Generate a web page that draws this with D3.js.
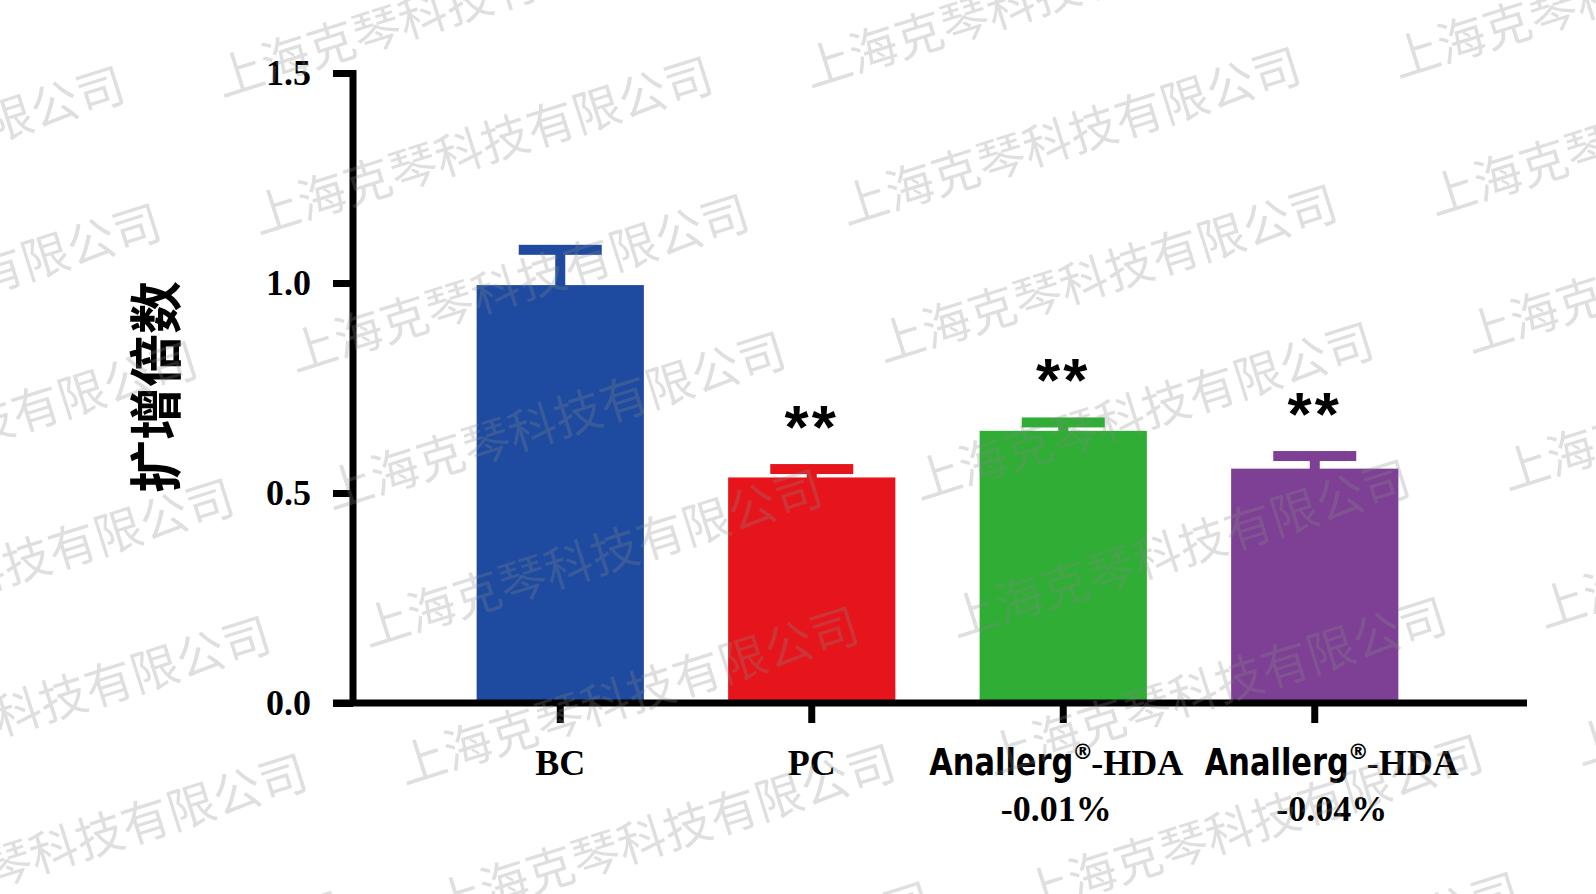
<html>
<head>
<meta charset="utf-8">
<script src="https://d3js.org/d3.v7.min.js"></script>
<style>
body { margin: 0; background: #fff; }
svg { display: block; }
</style>
</head>
<body>
<div id="plot"></div>
<script>

// data
var groups = ["BC", "PC", "HDA-0.01", "HDA-0.04"];
var means = [0.995, 0.537, 0.648, 0.558];
var errors = [0.084, 0.020, 0.020, 0.030];
var barColors = ["#1E4A9F", "#E6151B", "#2FAD35", "#7D4094"];
var stars = ["", "**", "**", "**"];
var yTicks = [0.0, 0.5, 1.0, 1.5];
var yTitle = "扩增倍数";
var watermark = "上海克琴科技有限公司";

var width = 1596, height = 894;

var svg = d3.select("#plot").append("svg")
.attr("width", width).attr("height", height);

var yScale = d3.scaleLinear().domain([0, 1.5]).range([703, 73]);
var xScale = d3.scaleBand().domain(groups).range([434.5, 1440.5])
.paddingInner(0.335).paddingOuter(0.1675);

/*** bars ***/
svg.selectAll("rect.bar").data(groups).enter()
.append("rect").attr("class", "bar")
.attr("x", function (d) { return xScale(d); })
.attr("width", xScale.bandwidth())
.attr("y", function (d, i) { return yScale(means[i]); })
.attr("height", function (d, i) { return yScale(0) - yScale(means[i]); })
.style("fill", function (d, i) { return barColors[i]; });

/*** error bars, upper only ***/
var capW = 83, lineW = 10;
groups.forEach(function (g, i) {
	var cx = xScale(g) + xScale.bandwidth() / 2;
	var top = yScale(means[i] + errors[i]);
	svg.append("rect")
	.attr("x", cx - lineW / 2).attr("width", lineW)
	.attr("y", top).attr("height", yScale(means[i]) - top + 1)
	.style("fill", barColors[i]);
	svg.append("rect")
	.attr("x", cx - capW / 2).attr("width", capW)
	.attr("y", top - lineW / 2).attr("height", lineW)
	.style("fill", barColors[i]);
	if (stars[i]) {
		svg.append("text")
		.attr("x", cx).attr("y", top - 21)
		.attr("text-anchor", "middle")
		.style("font-family", "'Liberation Sans', Arial, sans-serif")
		.style("font-weight", "bold")
		.style("font-size", "62px")
		.style("letter-spacing", "3px")
		.text(stars[i]);
	}
});

/*** axes ***/
var yAxis = d3.axisLeft(yScale).tickValues(yTicks).tickFormat(d3.format(".1f"))
.tickSize(20).tickSizeOuter(0).tickPadding(22);
var yG = svg.append("g").attr("transform", "translate(353,0)").call(yAxis);
yG.select(".domain").attr("d", "M0," + (yScale(1.5) - 3) + "V" + yScale(0))
.style("stroke", "#000").style("stroke-width", 7);
yG.selectAll(".tick line").style("stroke", "#000").style("stroke-width", 7);
yG.selectAll(".tick text")
.style("font-family", "'Liberation Serif', 'Times New Roman', serif")
.style("font-weight", "bold").style("font-size", "36px").style("fill", "#000")
.attr("dy", "0.33em");

var xAxis = d3.axisBottom(xScale).tickSize(20).tickSizeOuter(0).tickFormat("");
var xG = svg.append("g").attr("transform", "translate(0," + yScale(0) + ")").call(xAxis);
xG.select(".domain").attr("d", "M333,0H1527")
.style("stroke", "#000").style("stroke-width", 7);
xG.selectAll(".tick line").style("stroke", "#000").style("stroke-width", 7);

/*** x labels ***/
var serif = "'Liberation Serif', 'Times New Roman', serif";
var heavy = "'DejaVu Sans', sans-serif";
var labelShift = [0, 0, -7, 17];
var anW = 144;
groups.forEach(function (g, i) {
	var cx = xScale(g) + xScale.bandwidth() / 2 + labelShift[i];
	if (g.indexOf("HDA") === 0) {
		var lab = svg.append("g");
		var a = lab.append("text").attr("y", 775)
		.style("font-family", heavy).style("font-weight", "bold").style("font-size", "38px")
		.attr("textLength", anW).attr("lengthAdjust", "spacingAndGlyphs")
		.text("Anallerg");
		var r = lab.append("text").attr("y", 759)
		.style("font-family", heavy).style("font-weight", "bold").style("font-size", "21px")
		.text("®");
		var h = lab.append("text").attr("y", 775)
		.style("font-family", serif).style("font-weight", "bold").style("font-size", "36px")
		.text("-HDA");
		var wr = r.node().getComputedTextLength() - 3;
		var wh = h.node().getComputedTextLength();
		var total = anW + wr + wh;
		var x0 = cx - total / 2;
		a.attr("x", x0);
		r.attr("x", x0 + anW - 1);
		h.attr("x", x0 + anW + wr);
		svg.append("text").attr("x", cx).attr("y", 821)
		.attr("text-anchor", "middle")
		.style("font-family", serif).style("font-weight", "bold").style("font-size", "36px")
		.text("-" + g.split("-")[1] + "%");
	} else {
		svg.append("text").attr("x", cx).attr("y", 775)
		.attr("text-anchor", "middle")
		.style("font-family", serif).style("font-weight", "bold").style("font-size", "36px")
		.text(g);
	}
});

/*** y title ***/
svg.append("text")
.attr("transform", "translate(176,387) rotate(-90)")
.attr("text-anchor", "middle")
.style("font-family", "'Noto Sans CJK SC', sans-serif")
.style("font-weight", "bold").style("font-size", "53px")
.text(yTitle);

/*** watermark ***/
var wm = svg.append("g").style("pointer-events", "none");
for (var c = -1; c < 3; c++) {
	for (var rr = -1; rr < 8; rr++) {
		var wx = 222 + c * 588 + rr * 36.5;
		var wy = 97 - c * 9.5 + rr * 137.5;
		wm.append("text")
		.attr("transform", "translate(" + wx + "," + wy + ") rotate(-17.5)")
		.style("font-family", "'Noto Sans CJK SC', sans-serif")
		.style("font-size", "48px")
		.style("fill", "#8a8a8a").style("fill-opacity", 0.27)
		.text(watermark);
	}
}

</script>
</body>
</html>
